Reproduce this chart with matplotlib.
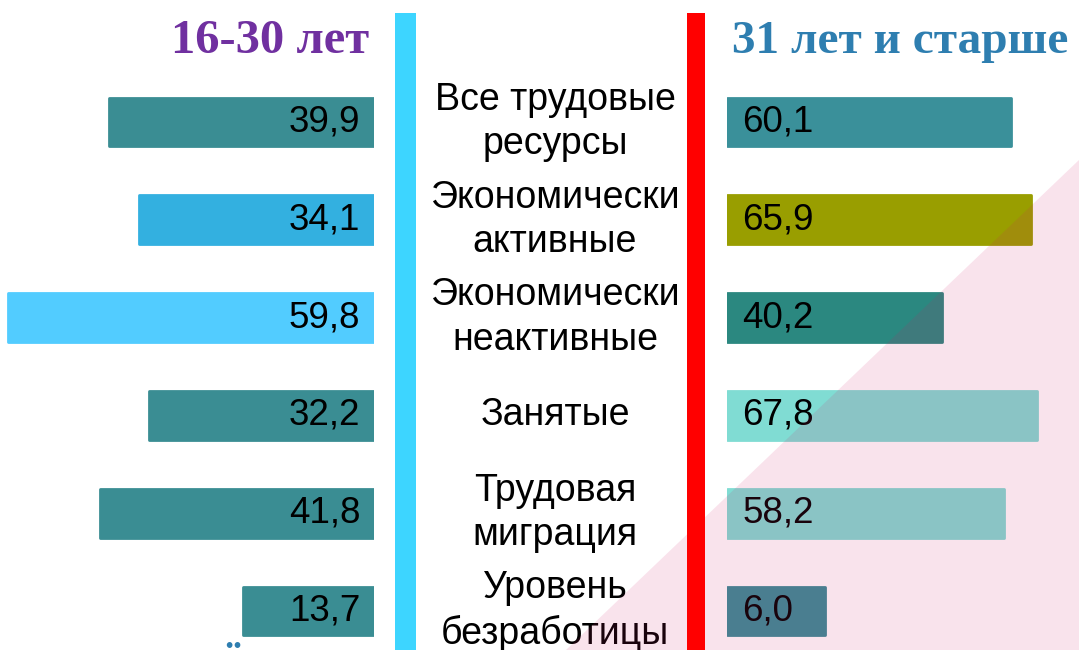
import numpy as np
import matplotlib
matplotlib.use("Agg")
import matplotlib.pyplot as plt
from matplotlib.patches import Rectangle, Polygon
from matplotlib import transforms

# data
categories = ["Все трудовые\nресурсы", "Экономически\nактивные", "Экономически\nнеактивные",
              "Занятые", "Трудовая\nмиграция", "Уровень\nбезработицы"]
young = [39.9, 34.1, 59.8, 32.2, 41.8, 13.7]
older = [60.1, 65.9, 40.2, 67.8, 58.2, 6.0]
young_colors = ["#3a8d93", "#33b0e0", "#52ccff", "#3a8d93", "#3a8d93", "#3a8d93"]
older_colors = ["#3a909a", "#999e00", "#2b8880", "#80dcd3", "#80dcd3", "#378c96"]
title_young = "16-30 лет"
title_older = "31 лет и старше"

W, H = 1079, 650
fig = plt.figure(figsize=(W / 100, H / 100), dpi=100)
fig.patch.set_facecolor("white")

rows = np.arange(len(categories))
row0, step = 122, 97.8
ylim = ((H - row0) / step, -row0 / step)

def fmt(v):
    return f"{v:.1f}".replace(".", ",")

# left side (16-30)
axL = fig.add_axes([0, 0, 374 / W, 1])
pad_l = 12.0
axL.barh(rows, np.array(young) + pad_l, height=0.5, color=young_colors,
         edgecolor=young_colors, linewidth=2, joinstyle="round")
axL.set_xlim(374 / 5.1, 0)
axL.set_ylim(*ylim)
for r, v in zip(rows, young):
    axL.text(2.7, r, fmt(v), ha="right", va="center", fontsize=26.5,
             family="Liberation Sans", color="black")
axL.axis("off")

# right side (31+)
axR = fig.add_axes([727 / W, 0, (W - 727) / W, 1])
pad_r = 22.3
axR.barh(rows, np.array(older) + pad_r, height=0.5, color=older_colors,
         edgecolor=older_colors, linewidth=2, joinstyle="round")
axR.set_xlim(0, (W - 727) / 3.446)
axR.set_ylim(*ylim)
for r, v in zip(rows, older):
    axR.text(4.4, r, fmt(v), ha="left", va="center", fontsize=26.5,
             family="Liberation Sans", color="black")
axR.axis("off")

# category labels in the middle
tr = transforms.blended_transform_factory(fig.transFigure, axL.transData)
for r, c in zip(rows, categories):
    fig.text(555 / W, r, c, transform=tr, ha="center", va="center", fontsize=27,
             family="Liberation Sans", linespacing=1.3, color="black")

# titles
fig.text(270 / W, 1 - 41 / H, title_young, ha="center", va="center", fontsize=35,
         family="Liberation Serif", weight="bold", color="#7030a0")
fig.text(900 / W, 1 - 42 / H, title_older, ha="center", va="center", fontsize=34,
         family="Liberation Serif", weight="bold", color="#2e7eb0")

# cut off text at the bottom
fig.text(-63 / W, 1 - 674 / H, "ние на молодёжи", ha="left", va="baseline", fontsize=35,
         family="Liberation Serif", weight="bold", color="#2e7eb0")

# pink triangle overlay
fig.add_artist(Polygon([(1, 1 - 160 / H), (1, 0), (566 / W, 0)], closed=True,
                       transform=fig.transFigure, facecolor="#d51a66", alpha=0.12,
                       edgecolor="none", zorder=5))

# vertical dividers
fig.add_artist(Rectangle((395 / W, 0), 21 / W, 1 - 13 / H, transform=fig.transFigure,
                         facecolor="#3dd5ff", edgecolor="none", zorder=6))
fig.add_artist(Rectangle((687 / W, 0), 18 / W, 1 - 13 / H, transform=fig.transFigure,
                         facecolor="#ff0000", edgecolor="none", zorder=6))

fig.savefig("out.png", dpi=100)
